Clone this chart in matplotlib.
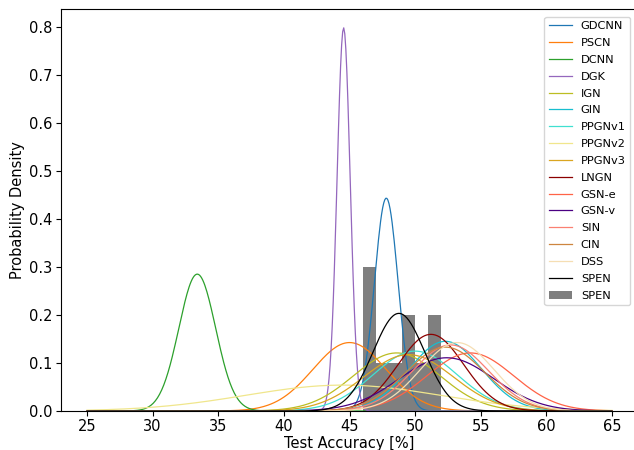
import numpy as np
import matplotlib.pyplot as plt

# fitted normal curves (mean, std of test accuracy in %)
models = ['GDCNN', 'PSCN', 'DCNN', 'DGK', 'IGN', 'GIN', 'PPGNv1', 'PPGNv2',
          'PPGNv3', 'LNGN', 'GSN-e', 'GSN-v', 'SIN', 'CIN', 'DSS']
means = [47.8, 45.0, 33.4, 44.55, 48.6, 52.3, 50.0, 44.5,
         49.5, 51.2, 54.2, 52.4, 52.7, 52.3, 53.2]
stds = [0.9, 2.8, 1.4, 0.5, 3.3, 2.75, 3.2, 7.4,
        3.4, 2.5, 3.3, 3.6, 2.9, 3.0, 2.8]
colors = ['tab:blue', 'tab:orange', 'tab:green', 'tab:purple', 'tab:olive',
          'tab:cyan', 'turquoise', 'khaki', 'goldenrod', 'darkred', 'tomato',
          'indigo', 'salmon', 'peru', 'wheat']

# SPEN runs
spen_acc = [46.0, 46.4, 46.8, 47.6, 48.4, 49.2, 49.6, 50.4, 51.2, 52.0]
spen_bins = [46, 47, 49, 50, 51, 52]


def normal_pdf(x, mu, sd):
    return np.exp(-0.5 * ((x - mu) / sd) ** 2) / (sd * np.sqrt(2 * np.pi))


x = np.linspace(25, 65, 500)

fig = plt.figure(figsize=(6.34, 4.5), dpi=100)
ax = fig.add_axes([0.0958, 0.0867, 0.911, 0.894])

for name, mu, sd, c in zip(models, means, stds, colors):
    ax.plot(x, normal_pdf(x, mu, sd), color=c, lw=0.9, label=name)

mu, sd = np.mean(spen_acc), np.std(spen_acc)
ax.plot(x, normal_pdf(x, mu, sd), color='k', lw=0.9, label='SPEN')
ax.hist(spen_acc, bins=spen_bins, density=True, color='k', alpha=0.5, label='SPEN')

ax.set_xlabel('Test Accuracy [%]', fontsize=10.5, labelpad=1)
ax.set_ylabel('Probability Density', fontsize=10.5, labelpad=3)
ax.tick_params(labelsize=10.5, pad=2.5)
ax.legend(fontsize=8.2, loc='upper right', labelspacing=0.6, borderaxespad=0.7)

fig.savefig('out.png', dpi=100)
